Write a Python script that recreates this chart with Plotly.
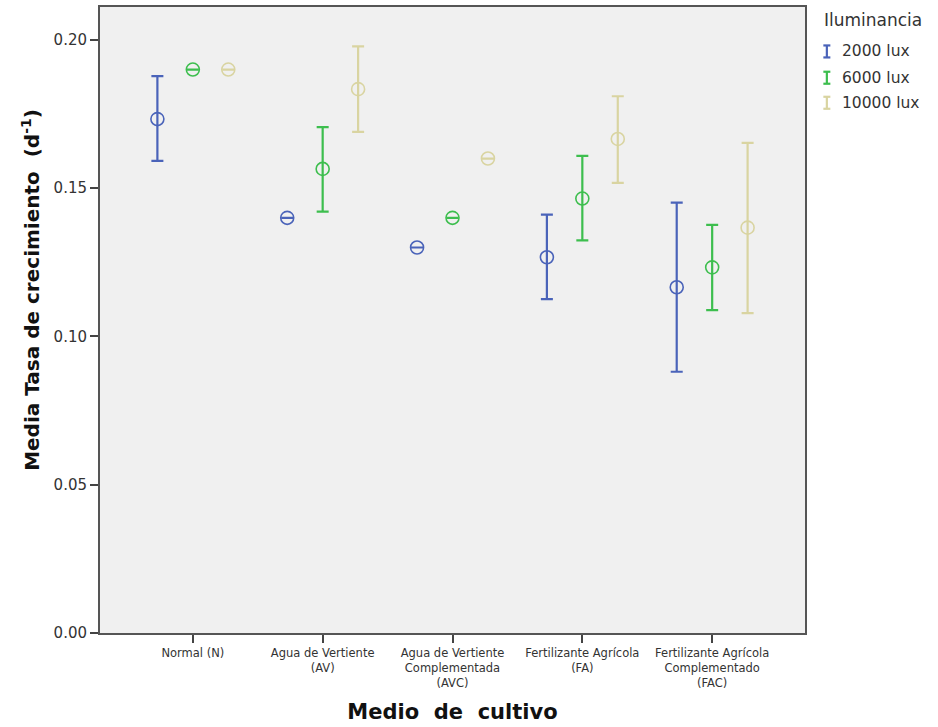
import plotly.graph_objects as go

# Growth rate means and error-bar limits per culture medium and illuminance
medios = [
    "Normal (N)",
    "Agua de Vertiente<br>(AV)",
    "Agua de Vertiente<br>Complementada<br>(AVC)",
    "Fertilizante Agrícola<br>(FA)",
    "Fertilizante Agrícola<br>Complementado<br>(FAC)",
]
series = ["2000 lux", "6000 lux", "10000 lux"]

media_2000 = [0.1733, 0.140, 0.130, 0.1267, 0.1166]
sup_2000 = [0.1878, 0.140, 0.130, 0.1411, 0.1451]
inf_2000 = [0.1592, 0.140, 0.130, 0.1126, 0.0881]

media_6000 = [0.190, 0.1565, 0.140, 0.1465, 0.1233]
sup_6000 = [0.190, 0.1706, 0.140, 0.1609, 0.1376]
inf_6000 = [0.190, 0.1421, 0.140, 0.1324, 0.1089]

media_10000 = [0.190, 0.1834, 0.160, 0.1666, 0.1367]
sup_10000 = [0.190, 0.1978, 0.160, 0.1810, 0.1653]
inf_10000 = [0.190, 0.1690, 0.160, 0.1518, 0.1079]

colores = ["#4A63B9", "#3DBE4E", "#D9D4A1"]
desplazamiento = [-0.273, 0.0, 0.273]

datos = [
    (media_2000, sup_2000, inf_2000),
    (media_6000, sup_6000, inf_6000),
    (media_10000, sup_10000, inf_10000),
]

fig = go.Figure()
for nombre, (m, s, i), color, dx in zip(series, datos, colores, desplazamiento):
    x = [k + dx for k in range(len(medios))]
    fig.add_trace(go.Scatter(
        x=x, y=m, name=nombre, mode="markers", showlegend=False,
        marker=dict(symbol="circle-open", size=13, color=color,
                    line=dict(width=1.6, color=color)),
        error_y=dict(type="data", symmetric=False,
                     array=[a - b for a, b in zip(s, m)],
                     arrayminus=[b - c for b, c in zip(m, i)],
                     color=color, thickness=2.2, width=6),
    ))

fuente = "DejaVu Sans"

fig.update_layout(
    width=938, height=727,
    margin=dict(l=100, r=133, t=5, b=94),
    paper_bgcolor="white",
    plot_bgcolor="#F0F0F0",
    font=dict(family=fuente, color="#333333"),
    xaxis=dict(
        range=[-0.715, 4.715],
        tickmode="array", tickvals=list(range(len(medios))), ticktext=medios,
        tickfont=dict(size=11.5, color="#333333"),
        ticks="outside", ticklen=8, tickwidth=2, tickcolor="#444444",
        showline=True, mirror=True, linecolor="#555555", linewidth=2,
        showgrid=False, zeroline=False,
        title=dict(text="<b>Medio\u00a0\u00a0de\u00a0\u00a0cultivo</b>",
                   font=dict(size=21, color="#111111", family=fuente),
                   standoff=16),
    ),
    yaxis=dict(
        range=[0, 0.2111],
        tickmode="array", tickvals=[0, 0.05, 0.10, 0.15, 0.20], tickformat=".2f",
        tickfont=dict(size=15, color="#333333"),
        ticks="outside", ticklen=8, tickwidth=2, tickcolor="#444444",
        showline=True, mirror=True, linecolor="#555555", linewidth=2,
        showgrid=False, zeroline=False,
    ),
)

# y-axis title
fig.add_annotation(
    text="<b>Media Tasa de crecimiento\u00a0\u00a0(d<sup>-1</sup>)</b>",
    xref="paper", yref="paper", x=-0.098, y=0.548,
    xanchor="center", yanchor="middle", textangle=-90, showarrow=False,
    font=dict(size=20, color="#111111", family=fuente),
)

# legend: title, entries and I-beam icons
fig.add_annotation(
    text="Iluminancia", xref="paper", yref="paper", x=1.024, y=0.979,
    xanchor="left", yanchor="middle", showarrow=False,
    font=dict(size=17, color="#333333", family=fuente),
)
filas_y = [0.929, 0.887, 0.847]
for nombre, color, fy in zip(series, colores, filas_y):
    fig.add_annotation(
        text=nombre, xref="paper", yref="paper", x=1.050, y=fy,
        xanchor="left", yanchor="middle", showarrow=False,
        font=dict(size=15.5, color="#333333", family=fuente),
    )
    for x0, x1, y0, y1 in [(0, 0, -6, 6), (-3.5, 3.5, 6, 6), (-3.5, 3.5, -6, -6)]:
        fig.add_shape(
            type="line", xref="paper", yref="paper",
            xsizemode="pixel", ysizemode="pixel",
            xanchor=1.031, yanchor=fy, x0=x0, x1=x1, y0=y0, y1=y1,
            line=dict(color=color, width=2.2),
        )

fig.write_html("out.html")
